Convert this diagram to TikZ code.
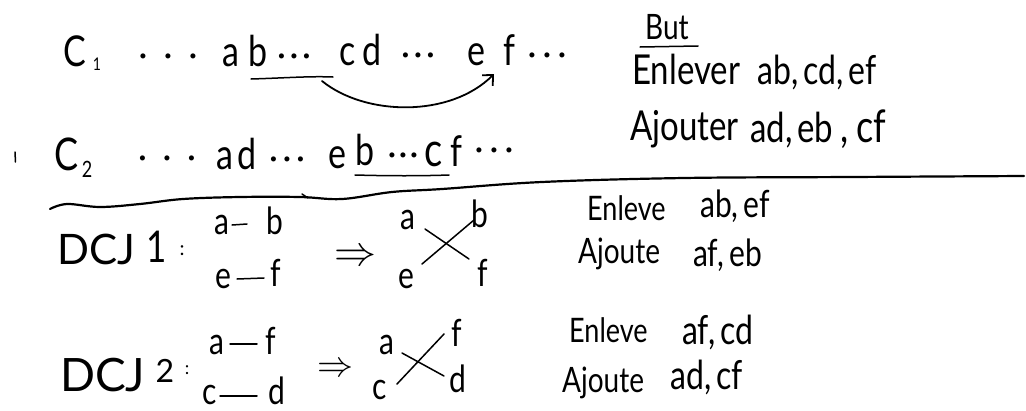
\documentclass[tikz,border=0pt]{standalone}
\usepackage{fontspec}
\usepackage{graphicx}
\setmainfont{Lato}
\usetikzlibrary{arrows.meta}
\newcommand{\fsz}[1]{\fontsize{#1}{#1}\selectfont}
\newcommand{\hw}[1]{\scalebox{1}[1.25]{#1}}
\newcommand{\cm}{,\hspace{5pt}}
\newcommand{\tdots}[1]{\makebox[#1]{·}\makebox[#1]{·}\makebox[#1]{·}}
\newcommand{\imp}[1]{\resizebox{#1}{!}{$\Rightarrow$}}
\begin{document}
\begin{tikzpicture}[x=1pt,y=-1pt,line cap=round,line join=round,
  ltr/.style={inner sep=0pt,anchor=base,font={\fsz{34}}},
  sm/.style={inner sep=0pt,anchor=base,font={\fsz{30}}},
  note/.style={inner sep=0pt,anchor=base west,font={\fsz{30}}},
  pen/.style={line width=1.5pt},
  bar/.style={line width=2.2pt}]
\useasboundingbox[fill=white] (0,0) rectangle (1026,410);

% ---------- row 1 ----------
\node[ltr] (C1) at (75,66) {\hw{C}};
\node[ltr,font={\fsz{14}}] (C1s) at (97,70) {\hw{1}};
\node[ltr] (r1d1) at (168,66) {\tdots{25pt}};
\node[ltr] (r1a) at (231,66) {\hw{a}};
\node[ltr] (r1b) at (258,66) {\hw{b}};
\node[ltr] (r1d2) at (294,66) {\tdots{12.5pt}};
\node[ltr] (r1c) at (348,65) {\hw{c}};
\node[ltr] (r1d) at (372,65) {\hw{d}};
\node[ltr] (r1d3) at (418,65) {\tdots{12.5pt}};
\node[ltr] (r1e) at (476,65) {\hw{e}};
\node[ltr] (r1f) at (509,65) {\hw{f}};
\node[ltr] (r1d4) at (547,65) {\tdots{15pt}};
\draw[pen] (251,79) .. controls (285,78) and (310,76) .. (333,77);
\coordinate (arS) at (322,81);
\coordinate (arE) at (494,74);
\draw[pen,line width=1.8pt,-{Straight Barb[length=8pt,width=15pt]}] (arS) .. controls (365,116) and (450,118) .. (arE);

% ---------- right notes (top) ----------
\node[note,font={\fsz{28}}] (but) at (645,39) {\hw{But}};
\draw[pen] (640,47) -- (698,46);
\node[note,font={\fsz{33}}] (enl) at (632,84) {\hw{Enlever}};
\node[note,font={\fsz{32}}] (enlx) at (757,84) {\hw{ab\cm cd\cm ef}};
\node[note,font={\fsz{33}}] (ajo) at (630,140) {\hw{Ajouter}};
\node[note,font={\fsz{33}}] (ajox) at (750,142) {\hw{ad\cm eb}};
\node[note,font={\fsz{36}}] (ajoy) at (840,142) {\hw{,\hspace{8pt}cf}};

% ---------- row 2 ----------
\draw[pen] (15,152) -- (15.5,162);
\node[ltr,font={\fsz{36}}] (C2) at (67,170) {\hw{C}};
\node[ltr,font={\fsz{18}}] (C2s) at (87,177) {\hw{2}};
\node[ltr] (r2d1) at (167,168) {\tdots{24.5pt}};
\node[ltr] (r2a) at (225,169) {\hw{a}};
\node[ltr] (r2d) at (247,169) {\hw{d}};
\node[ltr] (r2d2) at (287,169) {\tdots{13.5pt}};
\node[ltr] (r2e) at (337,168) {\hw{e}};
\node[ltr] (r2b) at (365,165) {\hw{b}};
\node[ltr] (r2d3) at (403,165) {\tdots{11pt}};
\node[ltr,font={\fsz{38}}] (r2c) at (434,166) {\hw{c}};
\node[ltr] (r2f) at (456,166) {\hw{f}};
\node[ltr] (r2d4) at (494,160) {\tdots{15pt}};
\draw[pen] (355,175) .. controls (390,176) and (420,176) .. (449,175);

% ---------- separator ----------
\draw[bar] plot[smooth,tension=0.6] coordinates {(50,209) (67,204) (100,207) (140,204) (183,199) (240,197) (300,197) (342,199) (392,192) (442,189) (542,182) (684,178) (850,177) (1024,176)};
\draw[pen] (302,194) -- (308,198);

% ---------- DCJ 1 ----------
\node[inner sep=0pt,anchor=base west,font={\fsz{42}}] (dcj1) at (57,264) {DCJ};
\node[inner sep=0pt,anchor=base,font={\fsz{35}}] (dcj1n) at (157,262) {\hw{1}};
\node[inner sep=0pt,anchor=base,font={\fsz{20}}] (dcj1c) at (182,255) {:};
\node[sm] (p1a) at (222,234) {\hw{a}};
\node[sm] (p1b) at (275,234) {\hw{b}};
\node[sm] (p1e) at (223,288) {\hw{e}};
\node[sm] (p1f) at (276,286) {\hw{f}};
\draw[pen] ([xshift=10pt,yshift=9pt]p1a.base) -- ([xshift=-28pt,yshift=10pt]p1b.base);
\draw[pen] ([xshift=14pt,yshift=9pt]p1e.base) -- ([xshift=-12pt,yshift=8pt]p1f.base);
\node[inner sep=0pt] (imp1) at (355,258) {\imp{42pt}};
\node[sm] (x1a) at (408,229) {\hw{a}};
\node[sm] (x1b) at (480,227) {\hw{b}};
\node[sm] (x1e) at (406,288) {\hw{e}};
\node[sm] (x1f) at (483,286) {\hw{f}};
\draw[pen] ([xshift=17pt]x1a.base) -- ([xshift=-14pt,yshift=27pt]x1f.base);
\draw[pen] ([xshift=16pt,yshift=24pt]x1e.base) -- ([xshift=-6pt,yshift=7pt]x1b.base);
\node[note,font={\fsz{27}}] (en1) at (587,220) {\hw{Enleve}};
\node[note] (en1x) at (700,217) {\hw{ab\cm ef}};
\node[note,font={\fsz{28}}] (aj1) at (578,263) {\hw{Ajoute}};
\node[note] (aj1x) at (693,266) {\hw{af\cm eb}};

% ---------- DCJ 2 ----------
\node[inner sep=0pt,anchor=base west,font={\fsz{46}}] (dcj2) at (60,391) {DCJ};
\node[inner sep=0pt,anchor=base,font={\fsz{32}}] (dcj2n) at (165,382) {2};
\node[inner sep=0pt,anchor=base,font={\fsz{18}}] (dcj2c) at (187,374) {:};
\node[sm] (p2a) at (217,354) {\hw{a}};
\node[sm] (p2f) at (271,354) {\hw{f}};
\node[sm] (p2c) at (210,404) {\hw{c}};
\node[sm] (p2d) at (277,404) {\hw{d}};
\draw[pen] ([xshift=13pt,yshift=10pt]p2a.base) -- ([xshift=-14pt,yshift=10pt]p2f.base);
\draw[pen] ([xshift=10pt,yshift=8pt]p2c.base) -- ([xshift=-20pt,yshift=8pt]p2d.base);
\node[inner sep=0pt] (imp2) at (335,370) {\imp{36pt}};
\node[sm] (x2a) at (387,354) {\hw{a}};
\node[sm] (x2f) at (457,346) {\hw{f}};
\node[sm] (x2c) at (380,399) {\hw{c}};
\node[sm] (x2d) at (458,392) {\hw{d}};
\draw[pen] ([xshift=15pt,yshift=1pt]x2a.base) -- ([xshift=-14pt,yshift=16pt]x2d.base);
\draw[pen] ([xshift=17pt,yshift=15pt]x2c.base) -- ([xshift=-13pt,yshift=12pt]x2f.base);
\node[note,font={\fsz{27}}] (en2) at (569,342) {\hw{Enleve}};
\node[note,font={\fsz{32}}] (en2x) at (682,344) {\hw{af\cm cd}};
\node[note,font={\fsz{28}}] (aj2) at (562,392) {\hw{Ajoute}};
\node[note,font={\fsz{32}}] (aj2x) at (670,389) {\hw{ad\cm cf}};
\end{tikzpicture}
\end{document}
